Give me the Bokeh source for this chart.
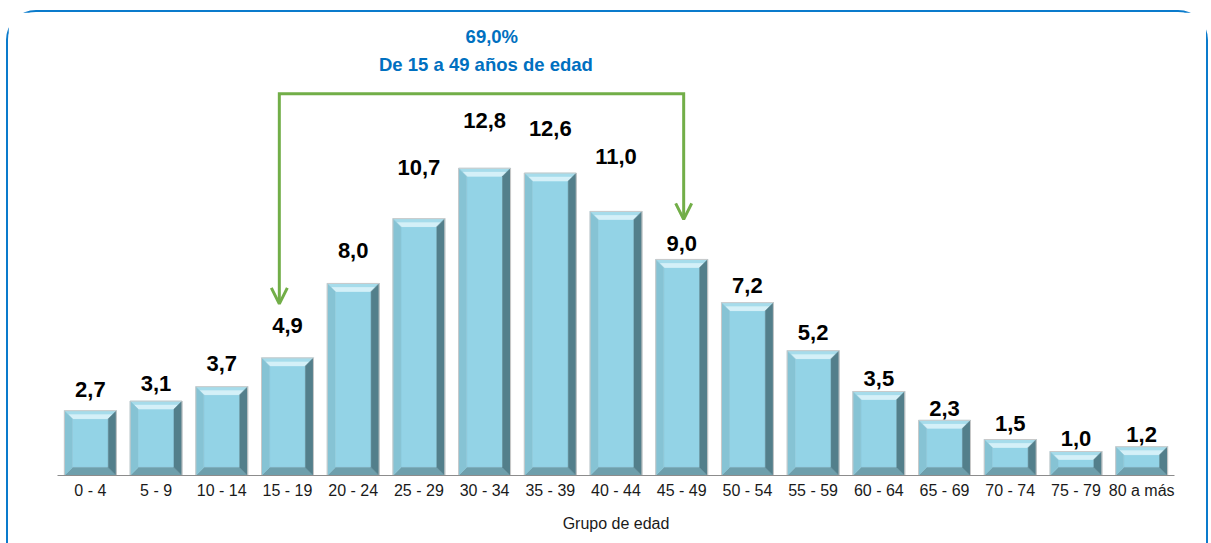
from bokeh.plotting import figure
from bokeh.models import Range1d, FixedTicker, Arrow, OpenHead, Label, ColumnDataSource
from bokeh.core.properties import value
from bokeh.embed import file_html
from bokeh.resources import INLINE

# ---- data ----
groups = ["0 - 4", "5 - 9", "10 - 14", "15 - 19", "20 - 24", "25 - 29", "30 - 34",
          "35 - 39", "40 - 44", "45 - 49", "50 - 54", "55 - 59", "60 - 64", "65 - 69",
          "70 - 74", "75 - 79", "80 a más"]
pct = [2.7, 3.1, 3.7, 4.9, 8.0, 10.7, 12.8, 12.6, 11.0, 9.0, 7.2, 5.2, 3.5, 2.3, 1.5, 1.0, 1.2]
summary_value = "69,0%"
summary_text = "De 15 a 49 años de edad"
x_title = "Grupo de edad"

# ---- layout constants ----
label_gap_px = [21, 18, 23, 32, 33, 51, 48, 45, 55, 16, 17, 18, 13, 12, 16, 13, 12]
W, H = 1202, 533
ML, MR, MT, MB = 49, 36, 10, 70
Y_END = 18.87
N = len(groups)
PX_X = (W - 4 - ML - MR) / N
PX_Y = (H - 2 - MT - MB) / Y_END
BAR_W = 0.79
BEV = 8

FONT = "Liberation Sans"

p = figure(width=W, height=H, output_backend="svg", toolbar_location=None,
           x_range=Range1d(0, N), y_range=Range1d(0, Y_END),
           min_border_left=ML, min_border_right=MR, min_border_top=MT, min_border_bottom=MB,
           y_axis_location=None, background_fill_color="white", border_fill_color="white")
p.outline_line_color = None
p.grid.visible = False
p.styles = {"border": "2px solid #0A7BCC", "border-radius": "30px 30px 0 0",
            "border-bottom": "none", "margin-left": "6px", "margin-top": "10px"}

centers = [i + 0.5 for i in range(N)]
bx = BEV / PX_X
by = BEV / PX_Y

faces = {"center": ([], []), "top_out": ([], []), "top_in": ([], []),
         "bottom": ([], []), "left": ([], []), "right": ([], []), "outline": ([], [])}
for c, v in zip(centers, pct):
    x0, x1 = c - BAR_W / 2, c + BAR_W / 2
    y1 = v
    faces["center"][0].append([x0 + bx, x1 - bx, x1 - bx, x0 + bx])
    faces["center"][1].append([by, by, y1 - by, y1 - by])
    faces["top_out"][0].append([x0, x1, x1 - bx / 2, x0 + bx / 2])
    faces["top_out"][1].append([y1, y1, y1 - by / 2, y1 - by / 2])
    faces["top_in"][0].append([x0 + bx / 2, x1 - bx / 2, x1 - bx, x0 + bx])
    faces["top_in"][1].append([y1 - by / 2, y1 - by / 2, y1 - by, y1 - by])
    faces["bottom"][0].append([x0, x1, x1 - bx, x0 + bx])
    faces["bottom"][1].append([0, 0, by, by])
    faces["left"][0].append([x0, x0, x0 + bx, x0 + bx])
    faces["left"][1].append([0, y1, y1 - by, by])
    faces["right"][0].append([x1, x1, x1 - bx, x1 - bx])
    faces["right"][1].append([0, y1, y1 - by, by])
    faces["outline"][0].append([x0, x1, x1, x0])
    faces["outline"][1].append([0, 0, y1, y1])

colors = {"center": "#93D3E6", "top_out": "#A6DCEB", "top_in": "#D4F0F8",
          "bottom": "#6E9FAC", "left": "#86C3D4", "right": "#537F8B"}
for k, col in colors.items():
    xs, ys = faces[k]
    p.patches(xs=xs, ys=ys, fill_color=col, line_color=col, line_width=0.5)
p.patches(xs=faces["outline"][0], ys=faces["outline"][1], fill_color=None,
          line_color="#C9C9C9", line_width=1)

# value labels
lbl_src = ColumnDataSource(dict(x=centers, y=pct,
                                t=[f"{v:.1f}".replace(".", ",") for v in pct],
                                off=[-g for g in label_gap_px]))
p.text(x="x", y="y", text="t", y_offset="off", source=lbl_src, text_align="center",
       text_baseline="middle", text_font=value(FONT), text_font_style="bold",
       text_font_size="22px", text_color="black")

# x axis
p.xaxis.ticker = FixedTicker(ticks=centers)
p.xaxis.major_label_overrides = {c: g for c, g in zip(centers, groups)}
p.xaxis.major_tick_line_color = None
p.xaxis.minor_tick_line_color = None
p.xaxis.major_tick_out = 0
p.xaxis.major_tick_in = 0
p.xaxis.axis_line_color = "#8C8C8C"
p.xaxis.axis_line_width = 1
p.xaxis.major_label_standoff = 6
p.xaxis.major_label_text_font = FONT
p.xaxis.major_label_text_font_size = "16px"
p.xaxis.major_label_text_color = "#1A1A1A"
p.xaxis.axis_label = x_title
p.xaxis.axis_label_text_font = FONT
p.xaxis.axis_label_text_font_style = "normal"
p.xaxis.axis_label_text_font_size = "16px"
p.xaxis.axis_label_text_color = "#1A1A1A"
p.xaxis.axis_label_standoff = 13

# bracket
GREEN = "#72AE48"
xl, xr = 3.376, 9.53
top = 15.9
tipl, tipr = 7.15, 10.67
p.line(x=[xl, xl, xr, xr], y=[tipl + 0.1, top, top, tipr + 0.1], line_color=GREEN,
       line_width=3, line_join="miter")
for xx, tip in ((xl, tipl), (xr, tipr)):
    p.add_layout(Arrow(x_start=xx, y_start=top, x_end=xx, y_end=tip, line_alpha=0,
                       end=OpenHead(size=16, line_color=GREEN, line_width=3)))

p.add_layout(Label(x=6.61, y=18.28, text=summary_value, text_align="center",
                   text_baseline="middle", text_font=FONT, text_font_style="bold",
                   text_font_size="18.5px", text_color="#0070C0"))
p.add_layout(Label(x=6.52, y=17.11, text=summary_text, text_align="center",
                   text_baseline="middle", text_font=FONT, text_font_style="bold",
                   text_font_size="18.5px", text_color="#0070C0"))

open("out.html", "w").write(file_html(p, INLINE))
